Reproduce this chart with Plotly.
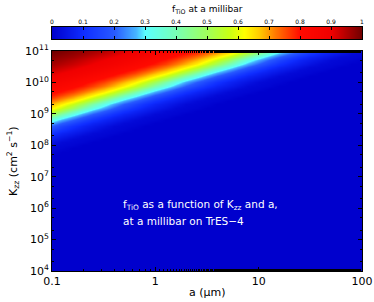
import plotly.graph_objects as go

# Profile of f_TiO read along the diagonal u = log10(Kzz) - log10(a)
u_profile = [8.6, 8.7, 8.8, 8.9, 9.0, 9.1, 9.2, 9.3, 9.4, 9.5, 9.6, 9.7, 9.8, 9.9,
             10.0, 10.1, 10.2, 10.3, 10.4, 10.5, 10.6, 10.7, 10.8, 10.9, 11.0,
             11.1, 11.2, 11.3, 11.4, 11.5, 11.6, 11.7, 11.8, 11.9, 12.0]
f_profile = [0.00, 0.00, 0.01, 0.015, 0.02, 0.04, 0.06, 0.08, 0.11, 0.15, 0.20, 0.26,
             0.33, 0.41, 0.50, 0.57, 0.63, 0.68, 0.72, 0.76, 0.79, 0.81, 0.83, 0.85,
             0.87, 0.885, 0.90, 0.915, 0.93, 0.945, 0.96, 0.97, 0.98, 0.99, 1.00]

log_a = [round(-1 + 0.1 * i, 1) for i in range(31)]      # a from 0.1 to 100 um
log_k = [round(4 + 0.1 * i, 1) for i in range(71)]       # Kzz from 1e4 to 1e11

x_tickvals = [0.1, 1, 10, 100]
x_ticktext = ["0.1", "1", "10", "100"]
y_exps = [4, 5, 6, 7, 8, 9, 10, 11]
cb_ticks = [0, 0.1, 0.2, 0.3, 0.4, 0.5, 0.6, 0.7, 0.8, 0.9, 1]
cb_labels = ["0", "0.1", "0.2", "0.3", "0.4", "0.5", "0.6", "0.7", "0.8", "0.9", "1"]

prof = dict(zip([round(v, 1) for v in u_profile], f_profile))
z = []
for lk in log_k:
    row = []
    for la in log_a:
        u = round(lk - la, 1)
        if u < u_profile[0]:
            row.append(f_profile[0])
        elif u > u_profile[-1]:
            row.append(f_profile[-1])
        else:
            row.append(prof[u])
    z.append(row)

colorscale = [
    [0.0, "rgb(0,0,205)"],
    [0.1, "rgb(15,45,255)"],
    [0.2, "rgb(40,90,255)"],
    [0.27, "rgb(70,180,255)"],
    [0.3, "rgb(90,255,255)"],
    [0.4, "rgb(120,255,180)"],
    [0.5, "rgb(160,255,90)"],
    [0.57, "rgb(200,255,20)"],
    [0.62, "rgb(255,255,0)"],
    [0.67, "rgb(255,200,0)"],
    [0.72, "rgb(255,120,0)"],
    [0.8, "rgb(255,10,0)"],
    [0.9, "rgb(240,0,0)"],
    [1.0, "rgb(110,0,0)"],
]

W, H = 374, 302
ML, MR, MT, MB = 52, 12, 27, 31
PW = W - ML - MR          # 310
PH = H - MT - MB          # 244
main_top = (PH - 24) / PH          # main plot top at pixel 51
cb_bottom = (PH - 12) / PH         # colour bar from pixel 27 to 39


def py(pix):
    """pixel row from top -> paper y"""
    return (H - MB - pix) / PH


def px(pix):
    return (pix - ML) / PW


fig = go.Figure()
fig.add_trace(go.Heatmap(
    x=[10 ** v for v in log_a],
    y=[10 ** v for v in log_k],
    z=z, zmin=0, zmax=1, zsmooth="best",
    colorscale=colorscale, showscale=False,
    xaxis="x", yaxis="y",
))
# colour bar drawn as its own strip
fig.add_trace(go.Heatmap(
    x=cb_ticks, y=[0, 1], z=[cb_ticks, cb_ticks],
    zmin=0, zmax=1, zsmooth="best",
    colorscale=colorscale, showscale=False,
    xaxis="x2", yaxis="y2", hoverinfo="skip",
))

FONT = "DejaVu Sans"
fig.add_annotation(
    x=0.5, y=py(10), xref="paper", yref="paper",
    xanchor="center", yanchor="middle", showarrow=False,
    text="f<sub>TiO</sub> at a millibar",
    font=dict(family=FONT, size=9, color="black"),
)
fig.add_annotation(
    x=px(121), y=py(205), xref="paper", yref="paper",
    xanchor="left", yanchor="middle", align="left", showarrow=False,
    text="f<sub>TiO</sub> as a function of K<sub>zz</sub> and a,",
    font=dict(family=FONT, size=10.5, color="white"),
)
fig.add_annotation(
    x=px(121), y=py(221), xref="paper", yref="paper",
    xanchor="left", yanchor="middle", align="left", showarrow=False,
    text="at a millibar on TrES\u22124",
    font=dict(family=FONT, size=10.5, color="white"),
)
fig.add_annotation(
    x=0.5, y=py(292), xref="paper", yref="paper",
    xanchor="center", yanchor="middle", showarrow=False,
    text="a (\u03bcm)", font=dict(family=FONT, size=11, color="black"),
)
fig.add_annotation(
    x=px(13), y=main_top / 2, xref="paper", yref="paper",
    xanchor="center", yanchor="middle", showarrow=False, textangle=-90,
    text="K<sub>zz</sub> (cm<sup>2</sup> s<sup>\u22121</sup>)",
    font=dict(family=FONT, size=11, color="black"),
)

fig.update_layout(
    width=W, height=H,
    margin=dict(l=ML, r=MR, t=MT, b=MB, autoexpand=False),
    paper_bgcolor="white", plot_bgcolor="rgb(0,0,205)",
    xaxis=dict(
        type="log", range=[-1, 2], domain=[0, 1], anchor="y",
        tickvals=x_tickvals, ticktext=x_ticktext,
        ticks="inside", ticklen=4, tickcolor="black",
        minor=dict(ticks="inside", ticklen=2, tickcolor="black", showgrid=False),
        showline=True, linecolor="black", linewidth=1, mirror="ticks",
        showgrid=False, zeroline=False,
        tickfont=dict(family=FONT, size=11, color="black"),
    ),
    yaxis=dict(
        type="log", range=[4, 11], domain=[0, main_top], anchor="x",
        tickvals=[10 ** e for e in y_exps],
        ticktext=["10<sup>%d</sup>" % e for e in y_exps],
        ticks="inside", ticklen=4, tickcolor="black",
        minor=dict(ticks="inside", ticklen=2, tickcolor="black", showgrid=False),
        showline=True, linecolor="black", linewidth=1, mirror="ticks",
        showgrid=False, zeroline=False,
        tickfont=dict(family=FONT, size=11, color="black"),
    ),
    xaxis2=dict(
        range=[0, 1], domain=[0, 1], anchor="y2", side="top",
        tickvals=cb_ticks, ticktext=cb_labels,
        ticks="inside", ticklen=3, tickcolor="black",
        showline=True, linecolor="black", linewidth=1, mirror="ticks",
        showgrid=False, zeroline=False,
        tickfont=dict(family=FONT, size=6, color="black"),
    ),
    yaxis2=dict(
        range=[0, 1], domain=[cb_bottom, 1], anchor="x2",
        showticklabels=False, ticks="",
        showline=True, linecolor="black", linewidth=1, mirror=True,
        showgrid=False, zeroline=False,
    ),
)

fig.write_html("out.html", config={"displayModeBar": False},
               post_script="document.body.style.margin='0px';")
